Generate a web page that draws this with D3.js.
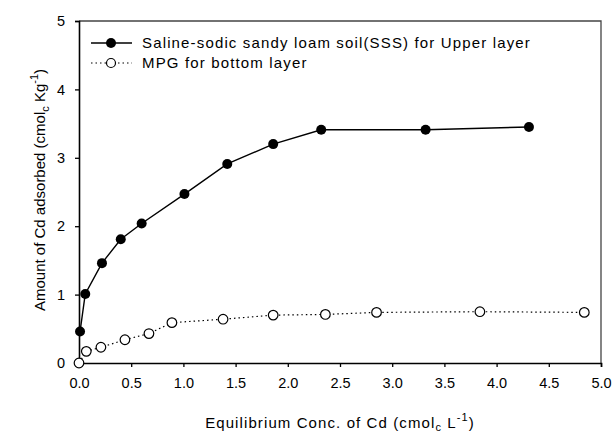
<!DOCTYPE html>
<html>
<head>
<meta charset="utf-8">
<script src="https://cdn.jsdelivr.net/npm/d3@7"></script>
<style>
  body { margin: 0; background: #fff; }
  svg { font-family: "Liberation Sans", Arial, sans-serif; }
</style>
</head>
<body>
<div id="chart"></div>
<script>
'use strict';

// data
var sssX = [0.01, 0.06, 0.22, 0.40, 0.60, 1.01, 1.42, 1.86, 2.32, 3.32, 4.31]
var sssY = [0.46, 1.01, 1.46, 1.81, 2.04, 2.47, 2.91, 3.20, 3.41, 3.41, 3.45]
var mpgX = [0.00, 0.07, 0.21, 0.44, 0.67, 0.89, 1.38, 1.86, 2.36, 2.85, 3.84, 4.84]
var mpgY = [0.00, 0.17, 0.23, 0.34, 0.43, 0.59, 0.64, 0.70, 0.71, 0.74, 0.75, 0.74]
var xTicks = [0, 0.5, 1, 1.5, 2, 2.5, 3, 3.5, 4, 4.5, 5]
var yTicks = [0, 1, 2, 3, 4, 5]
var legendLabels = ['Saline-sodic sandy loam soil(SSS) for Upper layer', 'MPG for bottom layer']

var W = 613, H = 432
var margin = {top: 21, right: 12, bottom: 69, left: 79}
var width = W - margin.left - margin.right,
    height = H - margin.top - margin.bottom

var svg = d3.select('#chart').append('svg')
    .attr('width', W)
    .attr('height', H)

var g = svg.append('g')
    .attr('transform', 'translate(' + margin.left + ',' + margin.top + ')')

var x = d3.scaleLinear().domain([0, 5]).range([0, width])
var y = d3.scaleLinear().domain([0, 5]).range([height, 0])

// frame (top / right)
g.append('path')
    .attr('d', 'M0,0H' + width + 'V' + height)
    .attr('fill', 'none')
    .attr('stroke', '#444')
    .attr('stroke-width', 1.3)

var xAxis = g.append('g')
    .attr('transform', 'translate(0,' + height + ')')
    .call(d3.axisBottom(x).tickValues(xTicks).tickFormat(d3.format('.1f')).tickSizeOuter(0).tickSize(4).tickPadding(11))
var yAxis = g.append('g')
    .call(d3.axisLeft(y).tickValues(yTicks).tickFormat(d3.format('d')).tickSizeOuter(0).tickSize(4).tickPadding(10))

;[xAxis, yAxis].forEach(function(a){
  a.selectAll('path.domain').attr('stroke', '#000').attr('stroke-width', 1.6)
  a.selectAll('.tick line').attr('stroke', '#000').attr('stroke-width', 1.3)
  a.selectAll('.tick text').attr('font-size', 14.5).attr('fill', '#000')
      .attr('font-family', '"Liberation Sans", Arial, sans-serif')
})

var sss = sssX.map(function(d, i){ return {x: d, y: sssY[i]} })
var mpg = mpgX.map(function(d, i){ return {x: d, y: mpgY[i]} })

var line = d3.line().x(function(d){ return x(d.x) }).y(function(d){ return y(d.y) })

g.append('path').datum(mpg)
    .attr('d', line)
    .attr('fill', 'none')
    .attr('stroke', '#000')
    .attr('stroke-width', 1.2)
    .attr('stroke-dasharray', '1.5,3')
g.append('path').datum(sss)
    .attr('d', line)
    .attr('fill', 'none')
    .attr('stroke', '#000')
    .attr('stroke-width', 1.4)

g.selectAll('circle.mpg').data(mpg).enter().append('circle')
    .attr('class', 'mpg')
    .attr('cx', function(d){ return x(d.x) })
    .attr('cy', function(d){ return y(d.y) })
    .attr('r', 4.8)
    .attr('fill', '#fff')
    .attr('stroke', '#000')
    .attr('stroke-width', 1.2)
g.selectAll('circle.sss').data(sss).enter().append('circle')
    .attr('class', 'sss')
    .attr('cx', function(d){ return x(d.x) })
    .attr('cy', function(d){ return y(d.y) })
    .attr('r', 5)
    .attr('fill', '#000')

// legend
var legend = g.append('g').attr('transform', 'translate(12,22)')
legendLabels.forEach(function(label, i){
  var row = legend.append('g').attr('transform', 'translate(0,' + (i * 20) + ')')
  row.append('line')
      .attr('x1', 0).attr('x2', 41)
      .attr('stroke', '#000')
      .attr('stroke-width', i === 0 ? 1.4 : 1.2)
      .attr('stroke-dasharray', i === 0 ? null : '1.5,3')
  row.append('circle')
      .attr('cx', 20).attr('r', i === 0 ? 5 : 4.5)
      .attr('fill', i === 0 ? '#000' : '#fff')
      .attr('stroke', '#000')
      .attr('stroke-width', i === 0 ? 0 : 1.2)
  row.append('text')
      .attr('x', 51).attr('dy', '0.35em')
      .attr('font-size', 15)
      .attr('letter-spacing', 1.15)
      .text(label)
})

// axis titles
var xt = svg.append('text')
    .attr('x', margin.left + width / 2).attr('y', 428)
    .attr('text-anchor', 'middle')
    .attr('font-size', 15)
    .attr('letter-spacing', 1.1)
xt.append('tspan').text('Equilibrium Conc. of Cd (cmol')
xt.append('tspan').attr('font-size', 11).attr('dy', 3).text('c')
xt.append('tspan').attr('dy', -3).text(' L')
xt.append('tspan').attr('font-size', 11).attr('dy', -7).text('-1')
xt.append('tspan').attr('dy', 7).text(')')

var yt = svg.append('text')
    .attr('transform', 'translate(45,' + 190 + ') rotate(-90)')
    .attr('text-anchor', 'middle')
    .attr('font-size', 15)
yt.append('tspan').text('Amount of Cd adsorbed (cmol')
yt.append('tspan').attr('font-size', 11).attr('dy', 4).text('c')
yt.append('tspan').attr('dy', -4).text(' Kg')
yt.append('tspan').attr('font-size', 11).attr('dy', -7).text('-1')
yt.append('tspan').attr('dy', 7).text(')')
</script>
</body>
</html>
